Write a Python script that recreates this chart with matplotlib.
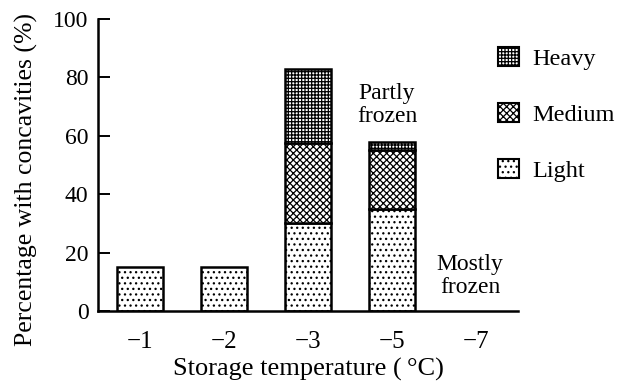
import numpy as np
import matplotlib.pyplot as plt
from matplotlib.patches import Patch

plt.rcParams['font.family'] = ['Liberation Serif', 'DejaVu Serif']
plt.rcParams['hatch.linewidth'] = 0.9

temps = ["\u22121", "\u22122", "\u22123", "\u22125", "\u22127"]
light = [15, 15, 30, 35, 0]
medium = [0, 0, 27.5, 20, 0]
heavy = [0, 0, 25.5, 3, 0]

x = np.arange(len(temps))
light_a = np.array(light)
medium_a = np.array(medium)
heavy_a = np.array(heavy)

fig = plt.figure(figsize=(6.25, 3.87), dpi=100)
ax = fig.add_axes([0.157, 0.196, 0.672, 0.755])

w = 0.55
kw = dict(width=w, edgecolor='black', linewidth=1.8, color='white')
mask = light_a > 0
ax.bar(x[mask], light_a[mask], hatch='...', **kw)
mask = medium_a > 0
ax.bar(x[mask], medium_a[mask], bottom=light_a[mask], hatch='xxxxx', **kw)
mask = heavy_a > 0
ax.bar(x[mask], heavy_a[mask], bottom=(light_a + medium_a)[mask], hatch='+++++', **kw)

ax.set_xlim(-0.5, 4.5)
ax.set_ylim(0, 100)
ax.set_xticks(x)
ax.set_xticklabels(temps)
ax.set_yticks([0, 20, 40, 60, 80, 100])
ax.tick_params(axis='x', length=0, pad=14, labelsize=18)
ax.tick_params(axis='y', direction='in', length=8.5, width=1.4, labelsize=17, pad=7)
for s in ['top', 'right']:
    ax.spines[s].set_visible(False)
for s in ['left', 'bottom']:
    ax.spines[s].set_linewidth(1.8)

ax.set_xlabel('Storage temperature (\u2009\u00b0C)', fontsize=19, labelpad=4)
ax.set_ylabel('Percentage with concavities (%)', fontsize=18.5)
ax.yaxis.set_label_coords(-0.142, 0.45)

ax.text(2.94, 70.5, 'Partly\nfrozen', ha='center', va='center', fontsize=17, linespacing=1.15)
ax.text(3.93, 12, 'Mostly\nfrozen', ha='center', va='center', fontsize=17, linespacing=1.15)

handles = [Patch(facecolor='white', edgecolor='black', linewidth=1.5, hatch='+++++', label='Heavy'),
           Patch(facecolor='white', edgecolor='black', linewidth=1.5, hatch='xxxxx', label='Medium'),
           Patch(facecolor='white', edgecolor='black', linewidth=1.5, hatch='...', label='Light')]
fig.legend(handles=handles, loc='upper left', bbox_to_anchor=(0.762, 0.935), frameon=False,
           fontsize=17.5, handlelength=0.85, handleheight=0.85, handletextpad=0.55, labelspacing=1.35)

fig.savefig('out.png', dpi=100)
